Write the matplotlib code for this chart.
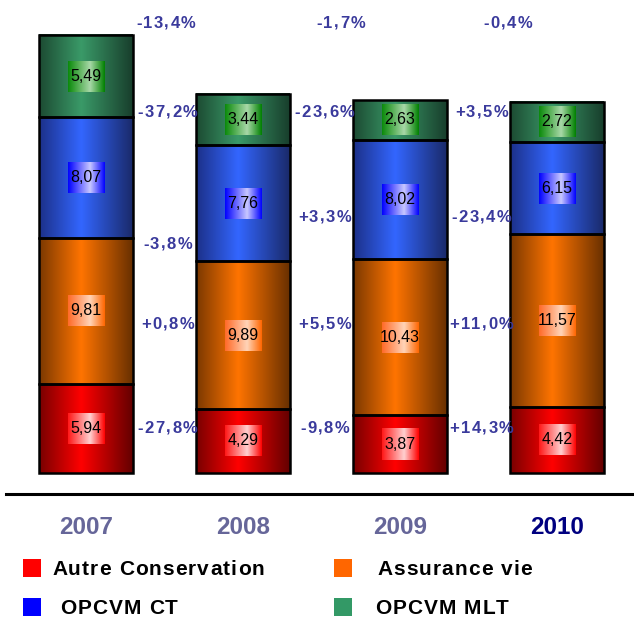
import numpy as np
import matplotlib
matplotlib.use("Agg")
import matplotlib.pyplot as plt
from matplotlib.patches import Rectangle
from matplotlib.lines import Line2D
from matplotlib.colors import to_rgb
from matplotlib.font_manager import FontProperties, findfont, get_font
from matplotlib.transforms import offset_copy

# ---------------- data ----------------
years = ["2007", "2008", "2009", "2010"]
series = ["Autre Conservation", "Assurance vie", "OPCVM CT", "OPCVM MLT"]
autre = [5.94, 4.29, 3.87, 4.42]
assurance = [9.81, 9.89, 10.43, 11.57]
opcvm_ct = [8.07, 7.76, 8.02, 6.15]
opcvm_mlt = [5.49, 3.44, 2.63, 2.72]
value_labels = [["5,94", "4,29", "3,87", "4,42"],
                ["9,81", "9,89", "10,43", "11,57"],
                ["8,07", "7,76", "8,02", "6,15"],
                ["5,49", "3,44", "2,63", "2,72"]]
# year-on-year changes (between consecutive years): per series and total
chg_autre = ["-27,8%", "-9,8%", "+14,3%"]
chg_assurance = ["+0,8%", "+5,5%", "+11,0%"]
chg_ct = ["-3,8%", "+3,3%", "-23,4%"]
chg_mlt = ["-37,2%", "-23,6%", "+3,5%"]
chg_total = ["-13,4%", "-1,7%", "-0,4%"]

# ---------------- style ----------------
W, H = 634, 618
fig = plt.figure(figsize=(W / 100, H / 100), dpi=100)
ax = fig.add_axes([0, 0, 1, 1])
PX_PER_UNIT = 14.94
BASE_PX = 473
STEP_PX = 157
X0_PX = 86
ax.set_xlim(-X0_PX / STEP_PX, (W - X0_PX) / STEP_PX)
ax.set_ylim((BASE_PX - H) / PX_PER_UNIT, BASE_PX / PX_PER_UNIT)
ax.axis("off")

def py(p):  # pixel y -> data y
    return (BASE_PX - p) / PX_PER_UNIT

def px(p):  # pixel x -> data x
    return (p - X0_PX) / STEP_PX

FONT = "Liberation Sans"

bar_stops = [
    [(0, "#780000"), (0.45, "#ff0000"), (1, "#640000")],
    [(0, "#7a3800"), (0.45, "#ff7400"), (1, "#683000")],
    [(0, "#1c3088"), (0.45, "#3366ff"), (1, "#1a2a6a")],
    [(0, "#1c4a32"), (0.45, "#3a9a68"), (1, "#183e2c")],
]
box_stops = [
    [(0, "#ff1818"), (0.6, "#ffd0d0"), (1, "#ff0000")],
    [(0, "#ff6a28"), (0.6, "#ffd4b8"), (1, "#ff6600")],
    [(0, "#0000ff"), (0.6, "#c8c8ff"), (1, "#0000ff")],
    [(0, "#0a8a0a"), (0.6, "#a8d8a8"), (1, "#008000")],
]
legend_colors = ["#ff0000", "#ff6600", "#0000ff", "#339966"]


def grad_img(stops, n=200):
    pos = np.array([s[0] for s in stops])
    cols = np.array([to_rgb(s[1]) for s in stops])
    t = np.linspace(0, 1, n)
    img = np.stack([np.interp(t, pos, cols[:, k]) for k in range(3)], axis=-1)
    return img[np.newaxis, :, :]


def grad_rect(x0, x1, y0, y1, stops, z):
    ax.imshow(grad_img(stops), extent=(x0, x1, y0, y1), aspect="auto",
              interpolation="bilinear", zorder=z)


def spaced_text(x, y, s, fs, spacing, color, weight="bold", transform=None,
                ha="center"):
    transform = transform or ax.transData
    fp = FontProperties(family=FONT, weight=weight, size=fs)
    font = get_font(findfont(fp))
    font.set_size(fs, 72)
    adv = [font.load_char(ord(c)).linearHoriAdvance / 65536 for c in s]
    total = sum(adv) + spacing * (len(s) - 1)
    off = -total / 2 if ha == "center" else 0
    for c, a in zip(s, adv):
        tr = offset_copy(transform, fig=fig, x=off, y=-0.358 * fs, units="points")
        ax.text(x, y, c, fontproperties=fp, color=color, ha="left",
                va="baseline", transform=tr, zorder=10)
        off += a + spacing


# ---------------- bars ----------------
stack = [autre, assurance, opcvm_ct, opcvm_mlt]
bw = 94 / STEP_PX
boxw = 37 / STEP_PX
boxh = 31 / PX_PER_UNIT
xs = np.arange(len(years))
for i, x in enumerate(xs):
    bottom = 0.0
    for k, vals in enumerate(stack):
        v = vals[i]
        grad_rect(x - bw / 2, x + bw / 2, bottom, bottom + v, bar_stops[k], 2)
        ax.add_patch(Rectangle((x - bw / 2, bottom), bw, v, fill=False,
                               edgecolor="black", lw=1.8, zorder=3))
        yc = bottom + v / 2
        grad_rect(x - boxw / 2, x + boxw / 2, yc - boxh / 2, yc + boxh / 2,
                  box_stops[k], 4)
        ax.text(x, yc, value_labels[k][i], ha="center", va="center",
                fontsize=11.5, family=FONT, color="black", zorder=5)
        bottom += v

# ---------------- change labels ----------------
side_rows = [(chg_autre, [427, 427, 427]),
             (chg_assurance, [323, 323, 323]),
             (chg_ct, [243, 216, 216]),
             (chg_mlt, [111, 111, 111])]
pct_color = "#3a3a9c"
for labels, ypx in side_rows:
    for j, lab in enumerate(labels):
        spaced_text(j + 0.5 + 0.02, py(ypx[j]), lab, 12, 1.0, pct_color)
top_x_px = [166, 341, 508]
for j, lab in enumerate(chg_total):
    spaced_text(px(top_x_px[j]), py(22), lab, 12, 1.0, pct_color)

# ---------------- baseline ----------------
fig.add_artist(Line2D([6 / W, 1.0], [1 - 494 / H, 1 - 494 / H],
                      color="black", lw=2.2, transform=fig.transFigure))

# ---------------- year labels ----------------
for i, yr in enumerate(years):
    col = "#000080" if i == len(years) - 1 else "#666699"
    ax.text(xs[i], py(527), yr, ha="center", va="center", fontsize=17.5,
            fontweight="bold", family=FONT, color=col)

# ---------------- legend ----------------
leg_pos = [(23, 52, 568), (334, 377, 568), (23, 60, 607), (334, 375, 607)]
for k, name in enumerate(series):
    sx, tx, yy = leg_pos[k]
    ax.add_patch(Rectangle((px(sx), py(yy + 9)), 18 / STEP_PX, 18 / PX_PER_UNIT,
                           facecolor=legend_colors[k], edgecolor="none", zorder=5))
    spaced_text(px(tx), py(yy), name, 15, 0.8, "black", ha="left")

fig.savefig("out.png", dpi=100)
